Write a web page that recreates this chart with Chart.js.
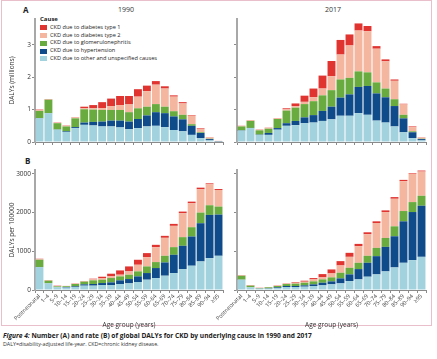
<!DOCTYPE html>
<html>
<head>
    <title>DALYs for CKD by cause</title>
    <style>
        body {
            margin: 0;
            font-family: "Liberation Sans Narrow", "Open Sans", sans-serif;
            background: #fff;
            color: #222;
        }
        #frame {
            position: absolute;
            left: 1px;
            top: 0;
            width: 431px;
            height: 326px;
            border: 1px solid #e8bfcb;
            box-sizing: border-box;
        }
        canvas { position: absolute; }
        .txt { position: absolute; white-space: nowrap; }
        .panel { font-weight: bold; font-size: 8px; }
        .year { font-size: 7px; color: #333; }
        #legend { position: absolute; left: 40px; top: 16px; font-size: 5.6px; line-height: 7.8px; }
        #legend .row { display: flex; align-items: center; }
        #legend .box { width: 7px; height: 5px; margin-right: 3px; }
        .cap1 { left: 3px; top: 331px; font-size: 6.6px; font-weight: bold; }
        .cap2 { left: 3px; top: 340px; font-size: 5.3px; color: #333; }
    </style>
    <script src="https://cdn.jsdelivr.net/npm/chart.js"></script>
</head>
<body>
    <div id="frame"></div>
    <div class="txt panel" style="left:23px;top:4px;">A</div>
    <div class="txt year" style="left:118px;top:5px;">1990</div>
    <div class="txt year" style="left:325px;top:5px;">2017</div>
    <div class="txt panel" style="left:25px;top:155px;">B</div>
    <div id="legend"></div>

    <canvas id="a1990" style="left:0;top:14px;" width="226" height="140"></canvas>
    <canvas id="a2017" style="left:202px;top:14px;" width="227" height="140"></canvas>
    <canvas id="b1990" style="left:0;top:160px;" width="226" height="170"></canvas>
    <canvas id="b2017" style="left:202px;top:160px;" width="227" height="170"></canvas>

    <div class="txt cap1"><i>Figure 4:</i> Number (A) and rate (B) of global DALYs for CKD by underlying cause in 1990 and 2017</div>
    <div class="txt cap2">DALY=disability-adjusted life-year. CKD=chronic kidney disease.</div>

    <script>
        const ageGroups = ['Postneonatal', '1–4', '5–9', '10–14', '15–19', '20–24', '25–29', '30–34', '35–39', '40–44',
            '45–49', '50–54', '55–59', '60–64', '65–69', '70–74', '75–79', '80–84', '85–89', '90–94', '≥95'];

        // legend order (top to bottom); stacking goes the other way
        const causes = ['CKD due to diabetes type 1', 'CKD due to diabetes type 2', 'CKD due to glomerulonephritis',
            'CKD due to hypertension', 'CKD due to other and unspecified causes'];
        const causeColors = ['#e03431', '#f5b69f', '#6aab3f', '#0f4b8a', '#a2d2de'];

        const aTicks = [0, 1, 2, 3];
        const bTicks = [0, 1000, 2000, 3000];

        // A: DALYs (millions), 1990
        const a1990Other = [0.73, 0.89, 0.38, 0.31, 0.43, 0.53, 0.51, 0.48, 0.48, 0.45, 0.40, 0.43, 0.48, 0.50, 0.46, 0.37, 0.33, 0.22, 0.12, 0.05, 0.01];
        const a1990Hyper = [0.01, 0.005, 0.005, 0.02, 0.03, 0.07, 0.11, 0.15, 0.18, 0.21, 0.23, 0.28, 0.34, 0.42, 0.43, 0.42, 0.37, 0.28, 0.16, 0.04, 0.01];
        const a1990Glom = [0.22, 0.41, 0.195, 0.15, 0.27, 0.41, 0.38, 0.36, 0.33, 0.33, 0.29, 0.33, 0.27, 0.25, 0.20, 0.16, 0.14, 0.05, 0.02, 0.01, 0.003];
        const a1990Diab2 = [0.02, 0.01, 0.01, 0.02, 0.03, 0.03, 0.04, 0.05, 0.12, 0.15, 0.24, 0.36, 0.48, 0.60, 0.56, 0.45, 0.35, 0.26, 0.10, 0.04, 0.008];
        const a1990Diab1 = [0.02, 0.01, 0.01, 0.01, 0.01, 0.05, 0.10, 0.19, 0.23, 0.28, 0.26, 0.23, 0.17, 0.11, 0.07, 0.04, 0.04, 0.02, 0.02, 0.01, 0.002];

        // A: DALYs (millions), 2017
        const a2017Other = [0.35, 0.43, 0.22, 0.22, 0.38, 0.50, 0.52, 0.58, 0.60, 0.65, 0.70, 0.81, 0.81, 0.89, 0.84, 0.66, 0.60, 0.48, 0.30, 0.12, 0.05];
        const a2017Hyper = [0.01, 0.005, 0.01, 0.06, 0.05, 0.08, 0.13, 0.18, 0.23, 0.31, 0.39, 0.56, 0.66, 0.81, 0.89, 0.84, 0.78, 0.63, 0.43, 0.18, 0.04];
        const a2017Glom = [0.12, 0.215, 0.13, 0.13, 0.28, 0.39, 0.41, 0.41, 0.43, 0.48, 0.51, 0.56, 0.51, 0.48, 0.42, 0.34, 0.27, 0.21, 0.11, 0.03, 0.01];
        const a2017Diab2 = [0.01, 0.02, 0.01, 0.02, 0.02, 0.04, 0.05, 0.07, 0.12, 0.21, 0.43, 0.77, 1.00, 1.26, 1.27, 1.04, 0.84, 0.57, 0.32, 0.13, 0.03];
        const a2017Diab1 = [0.01, 0.01, 0.01, 0.01, 0.01, 0.03, 0.08, 0.19, 0.27, 0.40, 0.47, 0.45, 0.34, 0.22, 0.16, 0.08, 0.06, 0.04, 0.02, 0.02, 0.01];

        // B: DALYs per 100000, 1990
        const b1990Other = [592, 172, 69, 62, 77, 112, 112, 129, 129, 155, 172, 206, 266, 309, 369, 438, 541, 627, 738, 824, 884];
        const b1990Hyper = [3, 2, 3, 15, 17, 34, 43, 51, 68, 94, 111, 146, 172, 258, 343, 472, 601, 755, 987, 1116, 1064];
        const b1990Glom = [186, 66, 22, 20, 61, 69, 94, 86, 112, 103, 112, 129, 171, 154, 172, 197, 223, 240, 275, 249, 207];
        const b1990Diab2 = [14, 10, 10, 5, 10, 10, 26, 34, 51, 43, 86, 171, 241, 386, 464, 550, 618, 618, 601, 541, 429];
        const b1990Diab1 = [12, 8, 8, 3, 7, 7, 17, 43, 61, 111, 128, 129, 103, 60, 51, 51, 43, 43, 43, 25, 25];

        // B: DALYs per 100000, 2017
        const b2017Other = [266, 69, 34, 34, 51, 77, 77, 86, 103, 120, 146, 171, 231, 274, 343, 403, 480, 583, 703, 771, 857];
        const b2017Hyper = [2, 2, 4, 9, 18, 26, 26, 34, 43, 68, 77, 129, 172, 266, 360, 471, 634, 805, 1071, 1243, 1320];
        const b2017Glom = [100, 40, 12, 26, 34, 51, 60, 68, 77, 86, 103, 146, 171, 163, 180, 214, 231, 257, 266, 257, 257];
        const b2017Diab2 = [10, 9, 5, 5, 9, 9, 25, 26, 51, 52, 102, 188, 283, 428, 557, 643, 669, 712, 771, 729, 626];
        const b2017Diab1 = [8, 9, 5, 3, 8, 8, 18, 26, 34, 85, 103, 112, 103, 60, 51, 43, 43, 43, 34, 17, 26];

        // legend
        const legendDiv = document.getElementById('legend');
        let html = '<div style="font-weight:bold;font-size:6px;margin-bottom:0;">Cause</div>';
        causes.forEach(function (c, i) {
            html += '<div class="row"><span class="box" style="background:' + causeColors[i] + '"></span>' + c + '</div>';
        });
        legendDiv.innerHTML = html;

        const fontFamily = '"Liberation Sans Narrow", "Open Sans", sans-serif';

        function makeChart(id, series, opts) {
            // series given bottom to top: other, hypertension, glomerulonephritis, diabetes 2, diabetes 1
            const datasets = series.map(function (values, i) {
                const legendIndex = 4 - i;
                return {
                    label: causes[legendIndex],
                    data: values,
                    backgroundColor: causeColors[legendIndex],
                    borderWidth: 0,
                    barPercentage: 0.88,
                    categoryPercentage: 1
                };
            });

            return new Chart(document.getElementById(id), {
                type: 'bar',
                data: { labels: ageGroups, datasets: datasets },
                options: {
                    responsive: false,
                    animation: false,
                    layout: { padding: { top: opts.padTop, right: 3, left: 0, bottom: 0 } },
                    plugins: { legend: { display: false }, tooltip: { enabled: false } },
                    scales: {
                        x: {
                            stacked: true,
                            afterFit: function (s) { s.height = opts.xHeight; },
                            border: { display: true, color: '#8a8a8a', width: 1 },
                            grid: { display: true, offset: true, drawOnChartArea: false, drawTicks: true, tickLength: 3, color: '#8a8a8a' },
                            ticks: {
                                autoSkip: false,
                                minRotation: 45,
                                maxRotation: 45,
                                padding: 0,
                                color: '#444',
                                font: { family: fontFamily, size: 5.6 },
                                callback: function (v, i) { return opts.xLabels ? ageGroups[i] : ''; }
                            },
                            title: {
                                display: opts.xLabels,
                                text: 'Age group (years)',
                                color: '#333',
                                font: { family: fontFamily, size: 6.5 },
                                padding: { top: 0, bottom: 1 }
                            }
                        },
                        y: {
                            stacked: true,
                            min: 0,
                            max: opts.max,
                            afterFit: function (s) { s.width = 35; },
                            afterBuildTicks: function (s) {
                                s.ticks = opts.ticks.map(function (v) { return { value: v }; });
                            },
                            border: { display: true, color: '#a8a8a8', width: 2 },
                            grid: { display: true, drawOnChartArea: false, drawTicks: true, tickLength: 3, color: '#8a8a8a' },
                            ticks: {
                                autoSkip: false,
                                padding: 1,
                                color: '#333',
                                font: { family: fontFamily, size: 6.5 },
                                callback: function (v) { return opts.yLabels ? String(v) : ''; }
                            },
                            title: {
                                display: opts.yLabels,
                                text: opts.yTitle,
                                color: '#333',
                                font: { family: fontFamily, size: 6.5 },
                                padding: { top: 8, bottom: 0 }
                            }
                        }
                    }
                }
            });
        }

        makeChart('a1990', [a1990Other, a1990Hyper, a1990Glom, a1990Diab2, a1990Diab1],
            { max: 3.8, ticks: aTicks, padTop: 4, xHeight: 12, xLabels: false, yLabels: true, yTitle: 'DALYs (millions)' });
        makeChart('a2017', [a2017Other, a2017Hyper, a2017Glom, a2017Diab2, a2017Diab1],
            { max: 3.8, ticks: aTicks, padTop: 4, xHeight: 12, xLabels: false, yLabels: false, yTitle: '' });
        makeChart('b1990', [b1990Other, b1990Hyper, b1990Glom, b1990Diab2, b1990Diab1],
            { max: 3100, ticks: bTicks, padTop: 10, xHeight: 40, xLabels: true, yLabels: true, yTitle: 'DALYs per 100000' });
        makeChart('b2017', [b2017Other, b2017Hyper, b2017Glom, b2017Diab2, b2017Diab1],
            { max: 3100, ticks: bTicks, padTop: 10, xHeight: 40, xLabels: true, yLabels: false, yTitle: '' });
    </script>
</body>
</html>
